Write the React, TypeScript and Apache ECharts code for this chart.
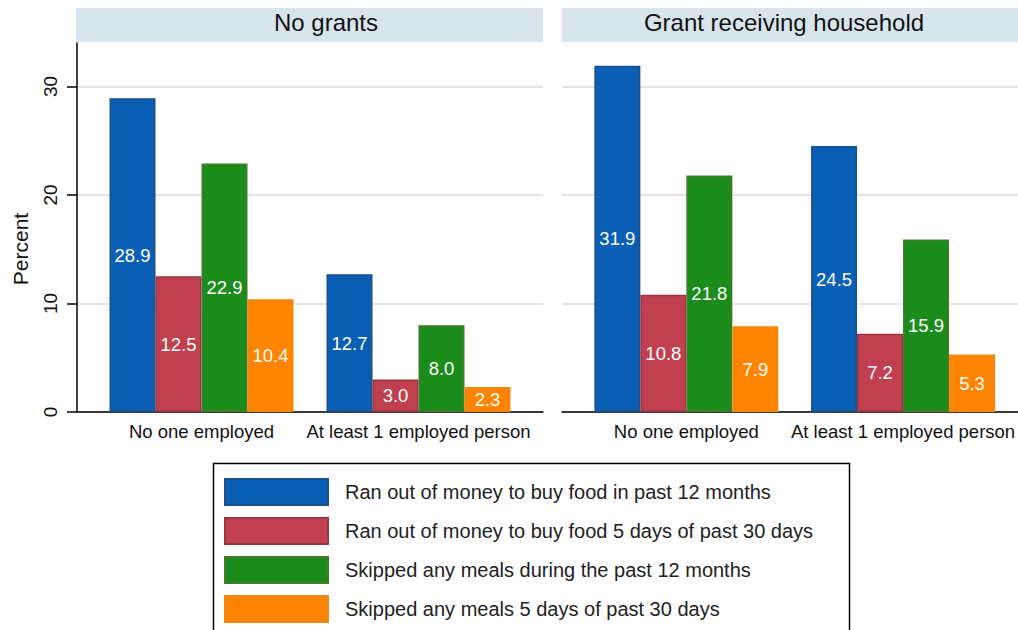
import React, { useEffect, useRef } from "react";
import * as echarts from "echarts";

const panels = ["No grants", "Grant receiving household"];
const categories = ["No one employed", "At least 1 employed person"];
const seriesNames = [
  "Ran out of money to buy food in past 12 months",
  "Ran out of money to buy food 5 days of past 30 days",
  "Skipped any meals during the past 12 months",
  "Skipped any meals 5 days of past 30 days",
];
// values per panel, per series, per category
const noGrants = [
  [28.9, 12.7],
  [12.5, 3.0],
  [22.9, 8.0],
  [10.4, 2.3],
];
const grantReceiving = [
  [31.9, 24.5],
  [10.8, 7.2],
  [21.8, 15.9],
  [7.9, 5.3],
];
const yTicks = [0, 10, 20, 30];
const yAxisTitle = "Percent";

const fills = ["#0a5fb5", "#c0404f", "#1b8b1b", "#ff8500"];
const strokes = ["#1d4f88", "#9c3343", "#437a2c", "#f2860f"];
const FONT = "'Liberation Sans', Arial, Helvetica, sans-serif";

export default function App() {
  const ref = useRef<HTMLDivElement>(null);
  useEffect(() => {
    if (!ref.current) return;
    const chart = echarts.init(ref.current, undefined, { renderer: "svg" });
    const top = 43;
    const h = 369;
    const grids = [
      { left: 77, width: 466, top, height: h },
      { left: 93, width: 434, top, height: h },
      { left: 562, width: 466, top, height: h },
      { left: 578, width: 434, top, height: h },
    ];
    const yMax = 34;
    const yAxes = grids.map((_, i) => {
      const bg = i === 0 || i === 2;
      const showAxis = i === 0;
      return {
        type: "value",
        gridIndex: i,
        min: 0,
        max: yMax,
        interval: 10,
        axisLine: { show: showAxis, lineStyle: { color: "#000", width: 1.5 } },
        axisTick: {
          show: showAxis,
          length: 10,
          customValues: yTicks,
          lineStyle: { color: "#000", width: 1.5 },
        },
        axisLabel: {
          show: showAxis,
          customValues: yTicks,
          rotate: 90,
          margin: 17,
          fontSize: 19,
          color: "#111",
          fontFamily: FONT,
        },
        splitLine: {
          show: bg,
          lineStyle: { color: "#dadada", width: 1.5 },
        },
      };
    });
    const xAxes = grids.map((_, i) => {
      const bg = i === 0 || i === 2;
      return {
        type: "category",
        gridIndex: i,
        data: categories,
        axisLine: { show: bg, lineStyle: { color: "#000", width: 1.5 } },
        axisTick: { show: false },
        axisLabel: {
          show: !bg,
          interval: 0,
          margin: 10,
          fontSize: 18.5,
          color: "#111",
          fontFamily: FONT,
        },
        splitLine: { show: false },
      };
    });
    const panelData = [noGrants, grantReceiving];
    const series: any[] = [];
    panelData.forEach((pd, p) => {
      pd.forEach((vals, s) => {
        series.push({
          type: "bar",
          name: seriesNames[s],
          xAxisIndex: p * 2 + 1,
          yAxisIndex: p * 2 + 1,
          data: vals,
          barWidth: 46,
          barGap: "0%",
          itemStyle: { color: fills[s], borderColor: strokes[s], borderWidth: 1.5 },
          label: {
            show: true,
            position: "inside",
            color: "#fff",
            fontSize: 18.5,
            fontFamily: FONT,
            formatter: (d: any) => Number(d.value).toFixed(1),
          },
        });
      });
    });
    const headerFill = "#d9e5ec";
    chart.setOption({
      animation: false,
      backgroundColor: "#fff",
      grid: grids,
      xAxis: xAxes,
      yAxis: yAxes,
      series,
      legend: {
        data: seriesNames,
        orient: "vertical",
        left: 224,
        top: 478,
        padding: 0,
        itemWidth: 103,
        itemHeight: 26,
        itemGap: 11,
        icon: "rect",
        selectedMode: false,
        textStyle: {
          fontSize: 20,
          lineHeight: 22,
          color: "#222",
          fontFamily: FONT,
          padding: [0, 0, 0, 12],
        },
      },
      graphic: [
        { type: "rect", shape: { x: 76, y: 8, width: 467, height: 34 }, style: { fill: headerFill } },
        { type: "rect", shape: { x: 562, y: 8, width: 460, height: 34 }, style: { fill: headerFill } },
        {
          type: "text",
          x: 326,
          y: 22,
          style: { text: panels[0], fontSize: 24, fill: "#111", fontFamily: FONT, align: "center", verticalAlign: "middle" },
        },
        {
          type: "text",
          x: 784,
          y: 22,
          style: { text: panels[1], fontSize: 24, fill: "#111", fontFamily: FONT, align: "center", verticalAlign: "middle" },
        },
        {
          type: "text",
          x: 20,
          y: 249,
          rotation: Math.PI / 2,
          style: { text: yAxisTitle, fontSize: 21, fill: "#111", fontFamily: FONT, align: "center", verticalAlign: "middle" },
        },
        {
          type: "rect",
          shape: { x: 213.5, y: 463.5, width: 636, height: 200 },
          style: { fill: "none", stroke: "#000", lineWidth: 1.5 },
          z: -1,
        },
      ],
    });
    return () => chart.dispose();
  }, []);
  return (
    <div
      ref={ref}
      style={{ position: "fixed", left: 0, top: 0, width: 1018, height: 630, background: "#fff" }}
    />
  );
}
